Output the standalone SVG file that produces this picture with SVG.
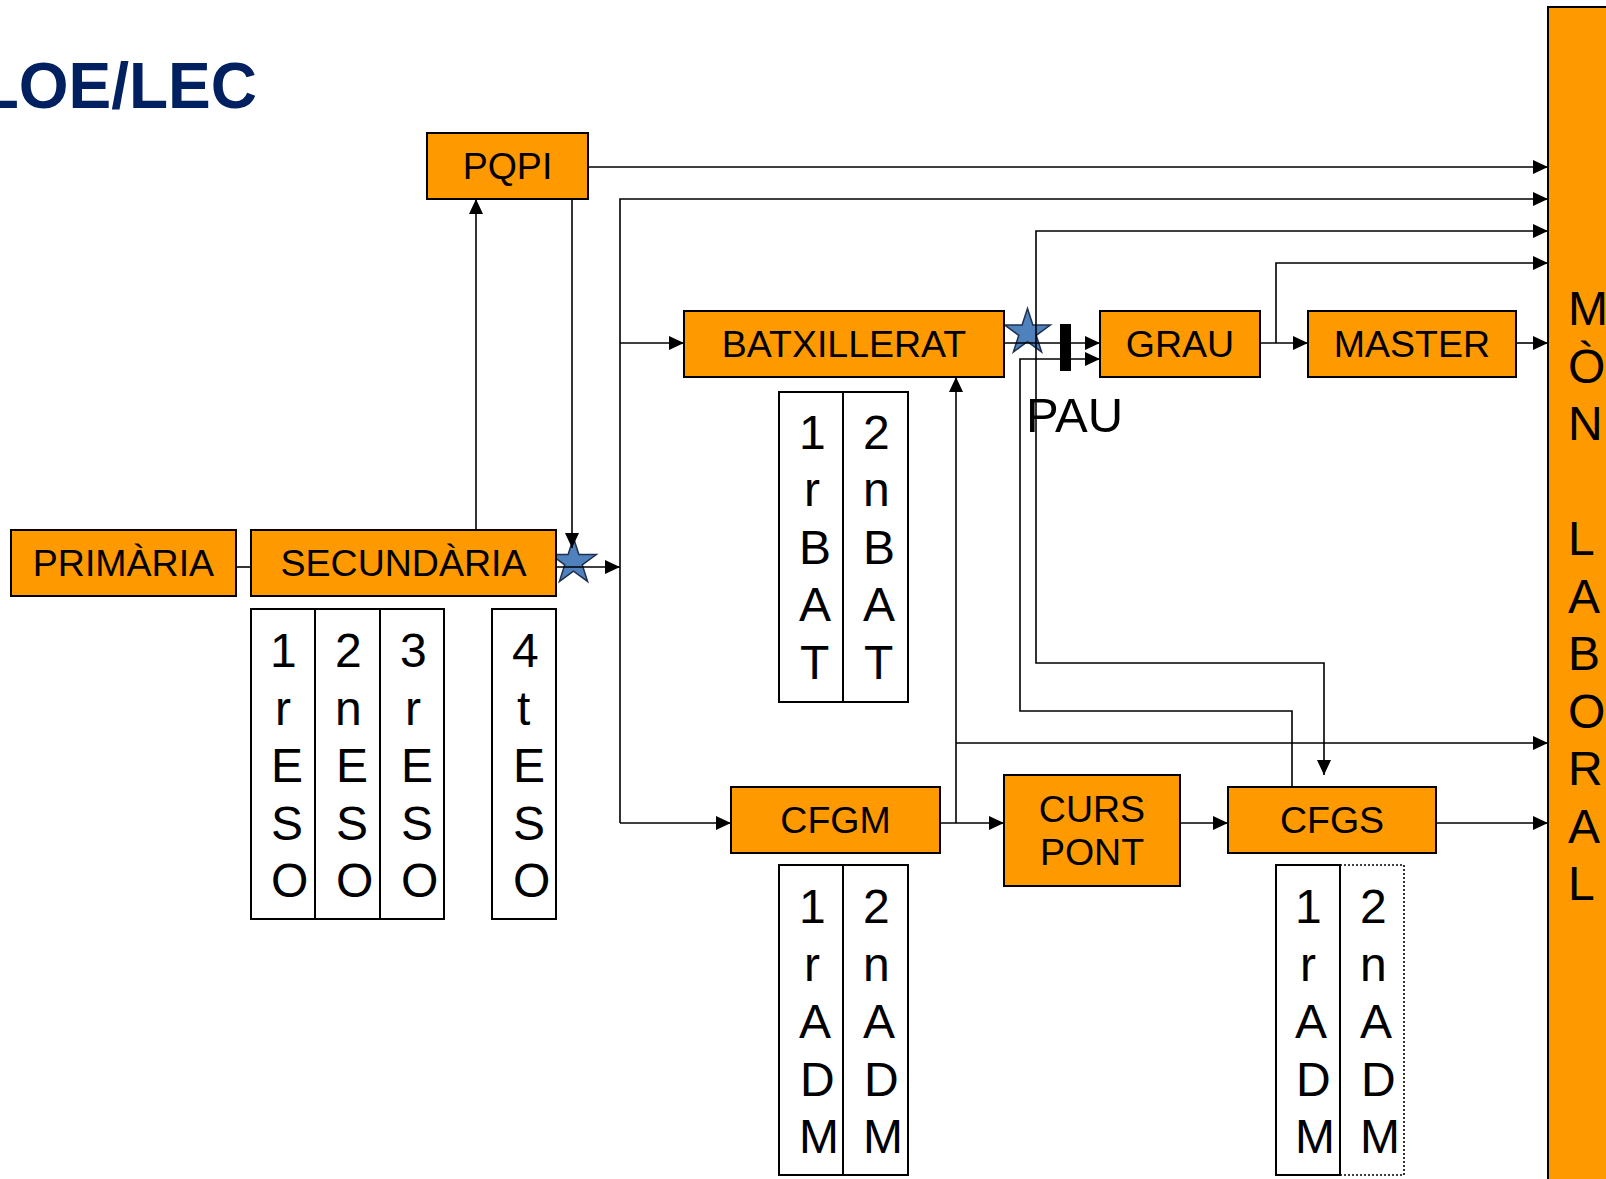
<svg xmlns="http://www.w3.org/2000/svg" xmlns:xlink="http://www.w3.org/1999/xlink" width="1606" height="1179" viewBox="0 0 1606 1179">
<style>
.box{fill:#FF9900;stroke:#000;stroke-width:2}
.lbl{font-family:"Liberation Sans",Arial,sans-serif;font-size:37.5px;fill:#000;text-anchor:middle}
.col{fill:#fff;stroke:#000;stroke-width:2}
.dot{fill:#fff;stroke:#000;stroke-width:1.6;stroke-dasharray:2 2}
.vt{font-family:"Liberation Sans",Arial,sans-serif;font-size:48px;fill:#000}
.ln{fill:none;stroke:#000;stroke-width:1.6}
.star{fill:#4F81BD;stroke:#1F3050;stroke-width:1.5}
</style>
<defs>
<marker id="arr" markerWidth="15" markerHeight="14" refX="15" refY="7" orient="auto" markerUnits="userSpaceOnUse"><path d="M0,0 L15,7 L0,14 z" fill="#000"/></marker>
<polygon id="starShape" points="0,-24 5.39,-7.42 22.83,-7.42 8.72,2.83 14.11,19.42 0,9.17 -14.11,19.42 -8.72,2.83 -22.83,-7.42 -5.39,-7.42"/>
</defs>
<rect width="1606" height="1179" fill="#fff"/>
<text x="257" y="108" font-family="Liberation Sans,Arial,sans-serif" font-weight="bold" font-size="64" fill="#002060" text-anchor="end">LOE/LEC</text>

<g id="mon-laboral">
<rect class="box" x="1548" y="7" width="80" height="1200"/>
<text class="vt"><tspan x="1568" y="325">M</tspan><tspan x="1568" y="383">Ò</tspan><tspan x="1568" y="440">N</tspan><tspan x="1568" y="555">L</tspan><tspan x="1568" y="613">A</tspan><tspan x="1568" y="670">B</tspan><tspan x="1568" y="728">O</tspan><tspan x="1568" y="785">R</tspan><tspan x="1568" y="843">A</tspan><tspan x="1568" y="900">L</tspan></text>
</g>

<g id="stars">
<use xlink:href="#starShape" class="star" x="573.5" y="562"/>
<use xlink:href="#starShape" class="star" x="1027.5" y="332.5"/>
</g>

<g id="connectors">
<path class="ln" d="M588,167 H1548" marker-end="url(#arr)"/>
<path class="ln" d="M620,823 V199 H1548" marker-end="url(#arr)"/>
<path class="ln" d="M620,343 H684" marker-end="url(#arr)"/>
<path class="ln" d="M620,823 H731" marker-end="url(#arr)"/>
<path class="ln" d="M556,567 H620" marker-end="url(#arr)"/>
<path class="ln" d="M236,567 H251"/>
<path class="ln" d="M476,530 V199" marker-end="url(#arr)"/>
<path class="ln" d="M572,199 V548" marker-end="url(#arr)"/>
<path class="ln" d="M1004,343 H1100" marker-end="url(#arr)"/>
<path class="ln" d="M1036,343 V231 H1548" marker-end="url(#arr)"/>
<path class="ln" d="M1036,343 V663 H1324 V775" marker-end="url(#arr)"/>
<path class="ln" d="M1292,787 V711 H1020 V359 H1100" marker-end="url(#arr)"/>
<path class="ln" d="M1260,343 H1308" marker-end="url(#arr)"/>
<path class="ln" d="M1276,343 V263 H1548" marker-end="url(#arr)"/>
<path class="ln" d="M1516,343 H1548" marker-end="url(#arr)"/>
<path class="ln" d="M940,823 H1004" marker-end="url(#arr)"/>
<path class="ln" d="M956,823 V377" marker-end="url(#arr)"/>
<path class="ln" d="M956,743 H1548" marker-end="url(#arr)"/>
<path class="ln" d="M1180,823 H1228" marker-end="url(#arr)"/>
<path class="ln" d="M1436,823 H1548" marker-end="url(#arr)"/>
</g>

<g id="pau">
<rect x="1060" y="324" width="11" height="47" fill="#000"/>
<text x="1026" y="432" font-family="Liberation Sans,Arial,sans-serif" font-size="49" fill="#000">PAU</text>
</g>

<g id="pqpi"><rect class="box" x="427" y="133" width="161" height="66"/><text class="lbl" x="507.5" y="179">PQPI</text></g>
<g id="primaria"><rect class="box" x="11" y="530" width="225" height="66"/><text class="lbl" x="123.5" y="576">PRIMÀRIA</text></g>
<g id="secundaria"><rect class="box" x="251" y="530" width="305" height="66"/><text class="lbl" x="403.5" y="576">SECUNDÀRIA</text></g>
<g id="batxillerat"><rect class="box" x="684" y="311" width="320" height="66"/><text class="lbl" x="844" y="357">BATXILLERAT</text></g>
<g id="grau"><rect class="box" x="1100" y="311" width="160" height="66"/><text class="lbl" x="1180" y="357">GRAU</text></g>
<g id="master"><rect class="box" x="1308" y="311" width="208" height="66"/><text class="lbl" x="1412" y="357">MASTER</text></g>
<g id="cfgm"><rect class="box" x="731" y="787" width="209" height="66"/><text class="lbl" x="835.5" y="833">CFGM</text></g>
<g id="curs-pont"><rect class="box" x="1004" y="775" width="176" height="111"/><text class="lbl" x="1092" y="822">CURS</text><text class="lbl" x="1092" y="865">PONT</text></g>
<g id="cfgs"><rect class="box" x="1228" y="787" width="208" height="66"/><text class="lbl" x="1332" y="833">CFGS</text></g>

<g id="eso-cols">
<rect class="col" x="251" y="609" width="64" height="310"/>
<rect class="col" x="315" y="609" width="65" height="310"/>
<rect class="col" x="380" y="609" width="64" height="310"/>
<rect class="col" x="492" y="609" width="64" height="310"/>
<text class="vt"><tspan x="270" y="667">1</tspan><tspan x="275" y="724.5">r</tspan><tspan x="271" y="782">E</tspan><tspan x="271" y="839.5">S</tspan><tspan x="271" y="897">O</tspan></text>
<text class="vt"><tspan x="335" y="667">2</tspan><tspan x="335" y="724.5">n</tspan><tspan x="336" y="782">E</tspan><tspan x="336" y="839.5">S</tspan><tspan x="336" y="897">O</tspan></text>
<text class="vt"><tspan x="400" y="667">3</tspan><tspan x="405" y="724.5">r</tspan><tspan x="401" y="782">E</tspan><tspan x="401" y="839.5">S</tspan><tspan x="401" y="897">O</tspan></text>
<text class="vt"><tspan x="512" y="667">4</tspan><tspan x="517" y="724.5">t</tspan><tspan x="513" y="782">E</tspan><tspan x="513" y="839.5">S</tspan><tspan x="513" y="897">O</tspan></text>
</g>

<g id="bat-cols">
<rect class="col" x="779" y="392" width="64" height="310"/>
<rect class="col" x="843" y="392" width="65" height="310"/>
<text class="vt"><tspan x="799" y="448.5">1</tspan><tspan x="804" y="506">r</tspan><tspan x="799" y="563.5">B</tspan><tspan x="799" y="621">A</tspan><tspan x="800" y="678.5">T</tspan></text>
<text class="vt"><tspan x="863" y="448.5">2</tspan><tspan x="863" y="506">n</tspan><tspan x="863" y="563.5">B</tspan><tspan x="863" y="621">A</tspan><tspan x="864" y="678.5">T</tspan></text>
</g>

<g id="cfgm-cols">
<rect class="col" x="779" y="865" width="64" height="310"/>
<rect class="col" x="843" y="865" width="65" height="310"/>
<text class="vt"><tspan x="799" y="923">1</tspan><tspan x="804" y="980.5">r</tspan><tspan x="799" y="1038">A</tspan><tspan x="800" y="1095.5">D</tspan><tspan x="799" y="1153">M</tspan></text>
<text class="vt"><tspan x="863" y="923">2</tspan><tspan x="863" y="980.5">n</tspan><tspan x="863" y="1038">A</tspan><tspan x="864" y="1095.5">D</tspan><tspan x="863" y="1153">M</tspan></text>
</g>

<g id="cfgs-cols">
<rect class="dot" x="1340" y="865" width="64" height="310"/>
<rect class="col" x="1276" y="865" width="64" height="310"/>
<text class="vt"><tspan x="1295" y="923">1</tspan><tspan x="1300" y="980.5">r</tspan><tspan x="1295" y="1038">A</tspan><tspan x="1296" y="1095.5">D</tspan><tspan x="1295" y="1153">M</tspan></text>
<text class="vt"><tspan x="1360" y="923">2</tspan><tspan x="1360" y="980.5">n</tspan><tspan x="1360" y="1038">A</tspan><tspan x="1361" y="1095.5">D</tspan><tspan x="1360" y="1153">M</tspan></text>
</g>
</svg>
